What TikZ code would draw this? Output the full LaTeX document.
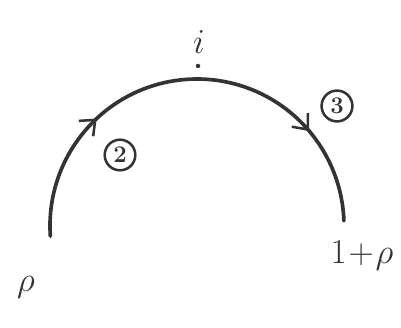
\documentclass[tikz,border=0pt]{standalone}
\usepackage{amsmath,amssymb}
\usetikzlibrary{arrows.meta,decorations.markings}
\definecolor{ink}{HTML}{333333}

\begin{document}
\begin{tikzpicture}[x=0.025cm,y=-0.025cm,>={Straight Barb[length=9pt,width=15pt,line width=1.8pt]}]
\tikzset{lbl/.style={text=ink,font=\fontsize{42}{48}\selectfont,inner sep=0pt},
  num/.style={draw=ink,circle,line width=1.8pt,inner sep=2.5pt,text=ink,font=\fontsize{17}{20}\selectfont\bfseries},
  path/.style={draw=ink,line width=2.6pt,line cap=round,
    decoration={markings,mark=at position 0.28 with {\arrow{>}},mark=at position 0.79 with {\arrow{>}}},
    postaction={decorate}}}
\useasboundingbox (0,0) rectangle (401,328);
\coordinate (c) at (197,226);
\coordinate (top) at (198,66);
\node[lbl] (rho) at (26,287) {$\rho$};
\node[lbl] (i) at (199,42) {$i$};
\node[lbl,font=\fontsize{26}{30}\selectfont] (rho1) at (362,256) {$1\!+\!\rho$};
\node[num] (n2) at (120,155) {2};
\node[num] (n3) at (337,106) {3};
\draw[path] (c) ++(176:147) arc[start angle=176,end angle=358,radius=147];
\fill[ink] (top) circle[radius=1.6pt];
\end{tikzpicture}
\end{document}
